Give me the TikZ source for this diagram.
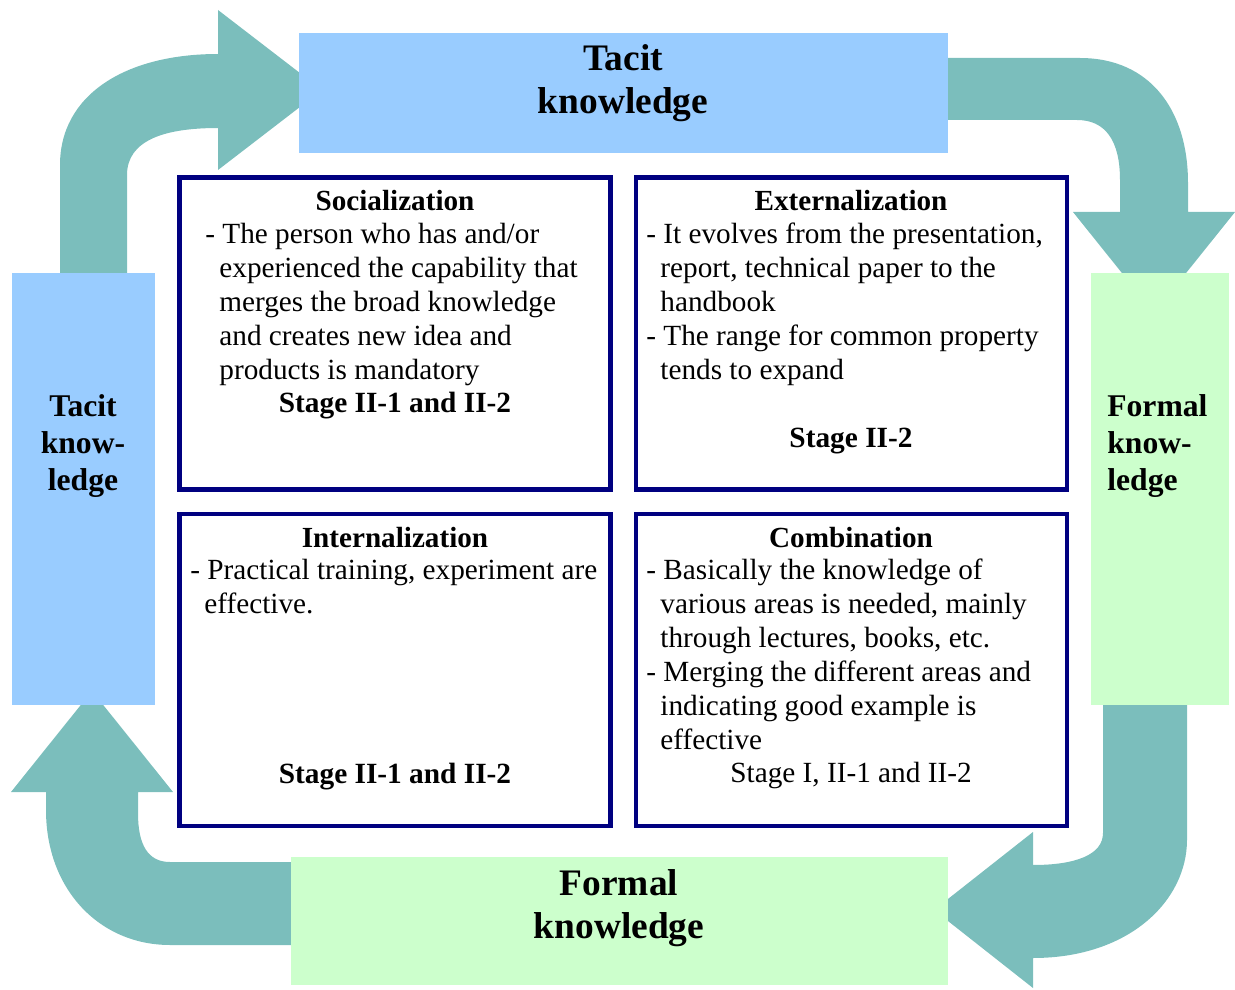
\documentclass[tikz,border=0pt]{standalone}
\usepackage{fontspec}
\setmainfont{Liberation Serif}
\definecolor{arrowteal}{HTML}{7BBEBC}
\definecolor{tacitblue}{HTML}{99CCFF}
\definecolor{formalgreen}{HTML}{CCFFCC}
\definecolor{quadnavy}{HTML}{000080}

\begin{document}
\begin{tikzpicture}[
  x=0.02cm,
  y=-0.02cm,
  every node/.style={font=\fontsize{16.65}{19.35}\selectfont, text=black},
  looparrow/.style={fill=arrowteal},
  bandbox/.style={inner sep=0pt, outer sep=0pt, anchor=north west},
  quadbox/.style={draw=quadnavy, line width=2.6pt, fill=white,
                  inner sep=0pt, outer sep=0pt, anchor=north west,
                  minimum width=8.62cm, minimum height=6.24cm},
  bigtitle/.style={font=\fontsize{21.3}{24.5}\selectfont\bfseries, align=center},
  sidetitle/.style={font=\fontsize{18}{21}\selectfont\bfseries},
  heading/.style={font=\fontsize{16.6}{19.35}\selectfont\bfseries,
                  anchor=base, inner sep=0pt},
  body/.style={align=left, anchor=north west, inner sep=0pt},
  stage/.style={anchor=base, inner sep=0pt},
  boldstage/.style={stage, font=\fontsize{16.7}{19.35}\selectfont\bfseries}
]
  \useasboundingbox (0,0) rectangle (1235,990);

  % ---- the four bent arrows round the cycle ------------------------------
  \fill[looparrow] (60,273) -- (60,165) .. controls (60,95) and (125,54) .. (218,54)
    -- (218,10) -- (322,90) -- (218,170) -- (218,128)
    .. controls (165,128) and (127,140) .. (127,175) -- (127,273) -- cycle;

  \fill[looparrow] (940,58) -- (1080,58) .. controls (1150,58) and (1188,110) .. (1188,183)
    -- (1188,212) -- (1235,212) -- (1154,313) -- (1073,212) -- (1120,212)
    -- (1120,180) .. controls (1120,140) and (1105,120) .. (1077,120)
    -- (940,120) -- cycle;

  \fill[looparrow] (1103,700) -- (1103,833) .. controls (1103,855) and (1075,865) .. (1033,865)
    -- (1033,832) -- (934,910) -- (1033,988) -- (1033,958)
    .. controls (1130,958) and (1187,900) .. (1187,840) -- (1187,700) -- cycle;

  \fill[looparrow] (300,862) -- (170,862) .. controls (148,862) and (138,845) .. (138,813)
    -- (138,792) -- (173,792) -- (92,691) -- (11,792) -- (46,792)
    -- (46,810) .. controls (46,890) and (100,945) .. (170,945) -- (300,945) -- cycle;

  % ---- the four knowledge bands ------------------------------------------
  \node[bandbox, fill=tacitblue, minimum width=12.98cm, minimum height=2.4cm]
    (tacittop) at (299,33) {};
  \node[bandbox, fill=tacitblue, minimum width=2.86cm, minimum height=8.64cm]
    (tacitleft) at (12,273) {};
  \node[bandbox, fill=formalgreen, minimum width=2.76cm, minimum height=8.64cm]
    (formalright) at (1091,273) {};
  \node[bandbox, fill=formalgreen, minimum width=13.14cm, minimum height=2.56cm]
    (formalbottom) at (291,857) {};

  \node[bigtitle] (tacittoplabel) at (623,83) {Tacit\\knowledge};
  \node[bigtitle] (formalbottomlabel) at (619,908) {Formal\\knowledge};
  \node[sidetitle, align=center] (tacitleftlabel) at (83,446) {Tacit\\know-\\ledge};
  \node[sidetitle, align=left, anchor=west, inner sep=0pt]
    (formalrightlabel) at (1107,446) {Formal\\know-\\ledge};

  % ---- the four quadrants ------------------------------------------------
  \node[quadbox] (socbox) at (179.5,177.5) {};
  \node[quadbox] (extbox) at (636,177.5) {};
  \node[quadbox] (intbox) at (179.5,514) {};
  \node[quadbox] (combox) at (636,514) {};

  \node[heading] (soctitle) at (395,211) {Socialization};
  \node[body] (socbody) at (205,222.5)
    {- The person who has and/or\\
     \hspace*{8pt}experienced the capability that\\
     \hspace*{8pt}merges the broad knowledge\\
     \hspace*{8pt}and creates new idea and\\
     \hspace*{8pt}products is mandatory};
  \node[boldstage] (socstage) at (395,412) {Stage II-1 and II-2};

  \node[heading] (exttitle) at (851,211) {Externalization};
  \node[body] (extbody) at (646,222.5)
    {- It evolves from the presentation,\\
     \hspace*{8pt}report, technical paper to the\\
     \hspace*{8pt}handbook\\
     - The range for common property\\
     \hspace*{8pt}tends to expand};
  \node[boldstage] (extstage) at (851,447) {Stage II-2};

  \node[heading] (inttitle) at (395,547) {Internalization};
  \node[body] (intbody) at (190,558.5)
    {- Practical training, experiment are\\
     \hspace*{8pt}effective.};
  \node[boldstage] (intstage) at (395,783) {Stage II-1 and II-2};

  \node[heading] (comtitle) at (851,547) {Combination};
  \node[body] (combody) at (646,558.5)
    {- Basically the knowledge of\\
     \hspace*{8pt}various areas is needed, mainly\\
     \hspace*{8pt}through lectures, books, etc.\\
     - Merging the different areas and\\
     \hspace*{8pt}indicating good example is\\
     \hspace*{8pt}effective};
  \node[stage] (comstage) at (851,782) {Stage I, II-1 and II-2};
\end{tikzpicture}
\end{document}
